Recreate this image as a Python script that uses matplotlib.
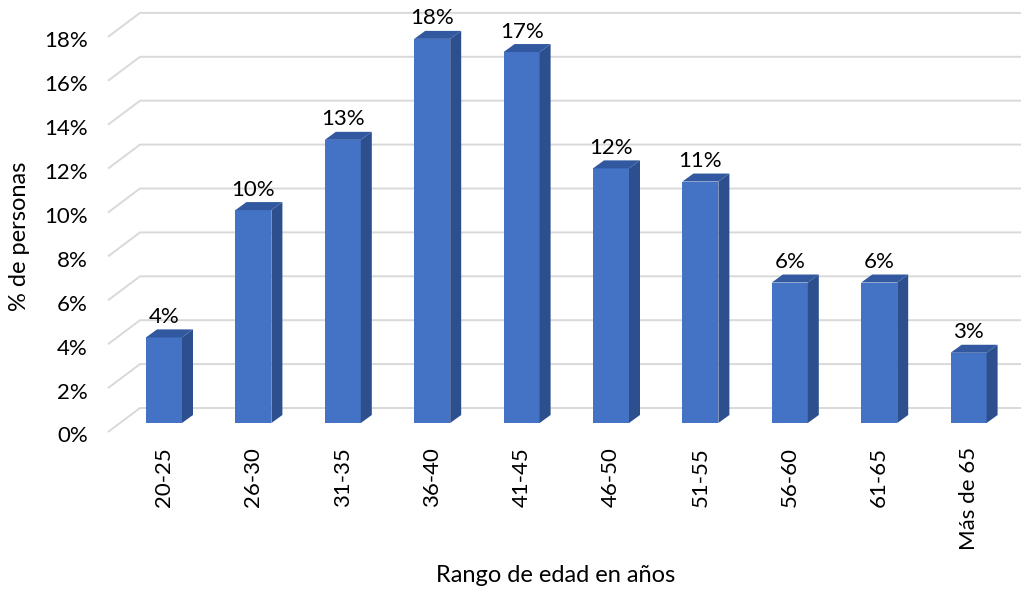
import matplotlib.pyplot as plt
from matplotlib.patches import Polygon

plt.rcParams['font.family'] = ['Lato', 'DejaVu Sans']

categorias = ['20-25', '26-30', '31-35', '36-40', '41-45',
              '46-50', '51-55', '56-60', '61-65', 'Más de 65']
porcentajes = [3.9, 9.7, 12.9, 17.5, 16.9, 11.6, 11.0, 6.4, 6.4, 3.2]
etiquetas = ['4%', '10%', '13%', '18%', '17%', '12%', '11%', '6%', '6%', '3%']
ticks_y = [0, 2, 4, 6, 8, 10, 12, 14, 16, 18]

# escala en pixeles (figura 1021x589)
W, H = 1021, 589
px_cat = 89.4      # pixeles por categoria
px_pct = 21.95     # pixeles por punto porcentual
x0_px = 164        # centro de la primera barra
base_px = 423      # base de las barras (desde arriba)

def dx(p):
    return p / px_cat

def dy(p):
    return p / px_pct

fig = plt.figure(figsize=(W / 100, H / 100), dpi=100)
ax = fig.add_axes([0, 0, 1, 1])
ax.set_xlim(-x0_px / px_cat, (W - x0_px) / px_cat)
ax.set_ylim((base_px - H) / px_pct, base_px / px_pct)
ax.axis('off')

# plano frontal y pared del fondo
fx, fy = dx(108 - x0_px), dy(-9)
bx, by = dx(140 - x0_px), dy(15)
gris = '#D9D9D9'
for t in ticks_y:
    ax.plot([fx, bx, dx(W - x0_px)], [t + fy, t + by, t + by],
            color=gris, lw=1.4, zorder=1, solid_capstyle='butt')
    ax.text(dx(88 - x0_px), t + fy - dy(10.5), f'{t}%', ha='right',
            va='baseline', fontsize=16, color='#000000')

# barras 3D
hw = dx(18)
px_d, py_d = dx(11), dy(8)
for i, v in enumerate(porcentajes):
    l, r = i - hw, i + hw
    frente = Polygon([(l, 0), (r, 0), (r, v), (l, v)], closed=True,
                     facecolor='#4472C4', edgecolor='none', zorder=3)
    lado = Polygon([(r, 0), (r + px_d, py_d), (r + px_d, v + py_d), (r, v)],
                   closed=True, facecolor='#2D4F8E', edgecolor='none', zorder=3)
    tapa = Polygon([(l, v), (r, v), (r + px_d, v + py_d), (l + px_d, v + py_d)],
                   closed=True, facecolor='#3258A0', edgecolor='none', zorder=3)
    for p in (frente, lado, tapa):
        ax.add_patch(p)
    ax.text(i, v + dy(14.5), etiquetas[i], ha='center', va='baseline',
            fontsize=16, color='#000000', zorder=4)
    ax.text(i, dy(-24), categorias[i], ha='center', va='top', rotation=90,
            fontsize=16, color='#000000')

fig.text(20 / W, 1 - 236 / H, '% de personas', rotation=90, ha='center',
         va='center', fontsize=17)
fig.text(556 / W, 1 - 582 / H, 'Rango de edad en años', ha='center',
         va='baseline', fontsize=17)

fig.savefig('out.png', dpi=100, facecolor='white')
